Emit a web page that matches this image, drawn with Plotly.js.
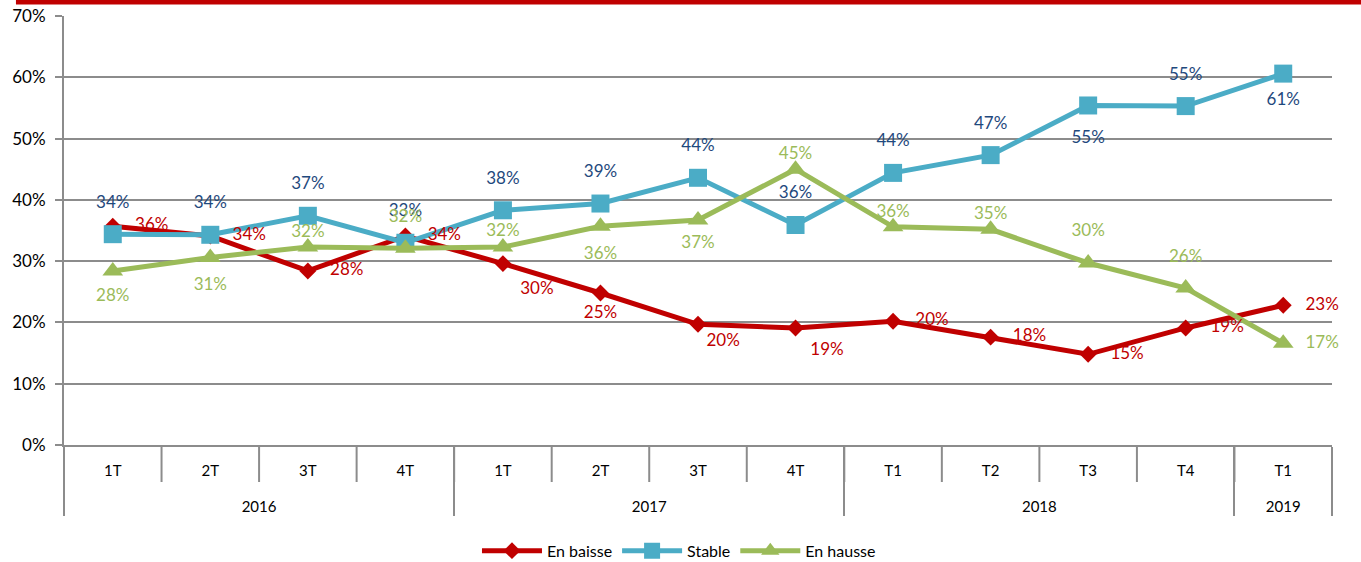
<!DOCTYPE html>
<html>
<head>
<meta charset="utf-8">
<script src="https://cdn.plot.ly/plotly-3.0.1.min.js"></script>
<style>
  html, body { margin: 0; padding: 0; background: #fff; }
  #chart { width: 1361px; height: 562px; }
</style>
</head>
<body>
<div id="chart"></div>
<script>
// ---- data ----
const years    = ['2016','2016','2016','2016','2017','2017','2017','2017','2018','2018','2018','2018','2019'];
const quarters = ['1T','2T','3T','4T','1T','2T','3T','4T','T1','T2','T3','T4','T1'];
const enBaisse = [35.7, 34.1, 28.4, 34.1, 29.6, 24.8, 19.7, 19.1, 20.2, 17.6, 14.8, 19.1, 22.8];
const stable   = [34.4, 34.3, 37.4, 33.0, 38.3, 39.4, 43.6, 35.9, 44.4, 47.3, 55.4, 55.3, 60.6];
const enHausse = [28.4, 30.6, 32.3, 32.1, 32.3, 35.7, 36.7, 45.0, 35.6, 35.2, 29.7, 25.6, 16.6];
const seriesNames = ['En baisse', 'Stable', 'En hausse'];
const yTickVals = [0, 10, 20, 30, 40, 50, 60, 70];

const FONT = 'Lato, "Open Sans", sans-serif';
const RED = '#C00000', BLUE = '#4BACC6', GREEN = '#9BBB59';
const BLUE_TXT = '#1F497D';
const GRID = '#8C8C8C';

const x = [years, quarters];
const pct = arr => arr.map(v => Math.round(v) + '%');
const PLOT_H = 562 - 16 - 117;

function lineTrace(name, y, color, symbol, size) {
  return {
    type: 'scatter', mode: 'lines+markers', name: name, x: x, y: y,
    line: {color: color, width: 5},
    marker: {color: color, symbol: symbol, size: size},
    hoverinfo: 'skip'
  };
}
// invisible markers only set how far each data label sits from its point
function labelTrace(y, color, positions, offsets) {
  return {
    type: 'scatter', mode: 'markers+text', x: x, y: y, showlegend: false,
    text: pct(y), textposition: positions,
    textfont: {family: FONT, size: 17, color: color},
    marker: {size: offsets, opacity: 0}, hoverinfo: 'skip', cliponaxis: false
  };
}

const traces = [
  lineTrace(seriesNames[0], enBaisse, RED, 'diamond', 13),
  lineTrace(seriesNames[1], stable, BLUE, 'square', 18),
  lineTrace(seriesNames[2], enHausse, GREEN, 'triangle-up', 18),
  labelTrace(stable, BLUE_TXT,
    ['top center','top center','top center','top center','top center','top center','top center','top center','top center','top center','bottom center','top center','bottom center'],
    [34,34,34,34,34,34,34,34,34,34,38,34,28]),
  labelTrace(enHausse, GREEN,
    ['bottom center','bottom center','top center','top center','top center','bottom center','bottom center','top center','top center','top center','top center','top center','middle right'],
    [26,30,8,34,10,30,22,8,8,8,34,34,34]),
  labelTrace(enBaisse, RED,
    ['middle right','middle right','middle right','middle right','bottom right','bottom center','bottom right','bottom right','middle right','middle right','middle right','middle right','middle right'],
    [34,34,34,34,26,18,12,22,34,34,34,38,34])
];

// separators between quarter cells (below the axis)
const sepShapes = [];
for (let i = 1; i < quarters.length; i++) {
  sepShapes.push({
    type: 'line', xref: 'paper', yref: 'paper',
    x0: i / quarters.length, x1: i / quarters.length,
    y0: 0, y1: -37 / PLOT_H,
    line: {color: GRID, width: 2}
  });
}

const layout = {
  width: 1361, height: 562,
  margin: {l: 64, r: 29, t: 16, b: 117, autoexpand: false},
  paper_bgcolor: '#fff', plot_bgcolor: '#fff',
  font: {family: FONT, color: '#000'},
  showlegend: true,
  legend: {orientation: 'h', x: 0.485, xanchor: 'center', yref: 'container', y: 0.02, yanchor: 'middle',
           font: {family: FONT, size: 16, color: '#000'}, itemwidth: 60},
  xaxis: {
    type: 'multicategory',
    range: [-0.5, quarters.length - 0.5],
    showgrid: false, zeroline: false,
    showline: true, linecolor: GRID, linewidth: 2,
    tickson: 'labels',
    ticks: 'outside', ticklen: 27, tickcolor: 'rgba(0,0,0,0)', tickwidth: 2,
    ticklabelstandoff: -16,
    showdividers: true, dividercolor: GRID, dividerwidth: 2,
    tickfont: {family: FONT, size: 15, color: '#000'}
  },
  yaxis: {
    range: [0, 70], tickmode: 'array', tickvals: yTickVals,
    ticktext: yTickVals.map(v => v + '%'),
    showgrid: true, gridcolor: GRID, gridwidth: 2,
    zeroline: false, showline: true, linecolor: GRID, linewidth: 2,
    ticks: 'outside', ticklen: 7, tickcolor: GRID, tickwidth: 2,
    ticklabelstandoff: 6,
    tickfont: {family: FONT, size: 17, color: '#000'}
  },
  shapes: [{
    type: 'rect', xref: 'paper', yref: 'paper',
    x0: -0.0379, x1: 1.03, y0: 1.0268, y1: 1.04,
    fillcolor: RED, line: {width: 0}, layer: 'above'
  }].concat(sepShapes)
};

Plotly.newPlot('chart', traces, layout, {displayModeBar: false, staticPlot: true});
</script>
</body>
</html>
